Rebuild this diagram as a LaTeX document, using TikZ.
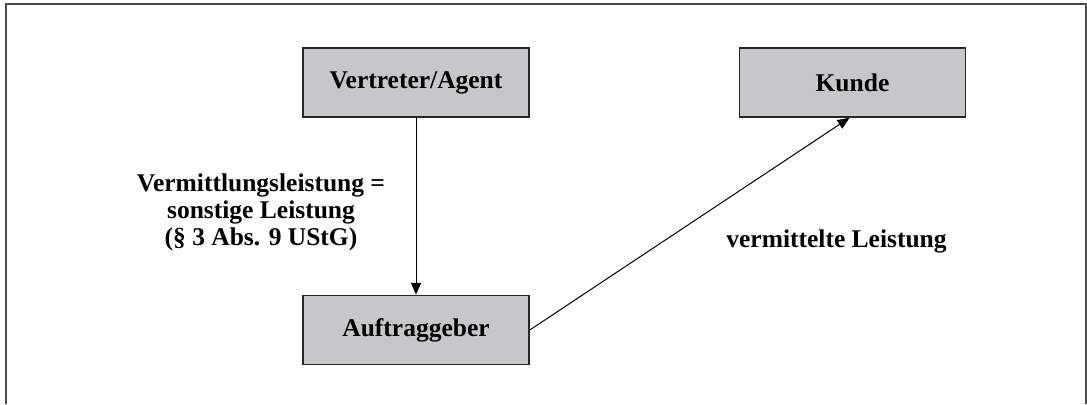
\documentclass[tikz,border=0pt]{standalone}
\usepackage{fontspec}
\setmainfont{Liberation Serif}
\usepackage{tikz}
\usetikzlibrary{positioning,arrows.meta}

\definecolor{boxgray}{HTML}{C6C7C9}

\begin{document}
\begin{tikzpicture}[x=0.5pt,y=-0.5pt,
    party/.style={rectangle,fill=boxgray,draw=black!85,line width=0.75pt,minimum width=113pt,minimum height=34.5pt,inner sep=0pt,font=\fontsize{12.75}{13.5}\selectfont\bfseries},
    lbl/.style={align=center,inner sep=0pt,font=\fontsize{12.75}{13.5}\selectfont\bfseries},
    flow/.style={draw,line width=0.5pt,-{Triangle[length=6pt,width=5pt]}}]
    \useasboundingbox (0,0) rectangle (1087,404);
    \draw[black!70,line width=0.8pt] (6,404) -- (6,4) -- (1086,4) -- (1086,404);

    \node[party] (vertreter) at (416,82.5) {Vertreter/Agent};
    \node[party] (kunde) [right = 104.5pt of vertreter] {Kunde};
    \node[party] (auftraggeber) [below = 88.5pt of vertreter] {Auftraggeber};

    \node[lbl] (vermittlung) at (261,212) {Vermittlungsleistung =\\sonstige Leistung\\(§ 3 Abs. 9 UStG)};
    \node[lbl] (vermittelt) at (836.5,241) {vermittelte Leistung};

    \path
    (vertreter) edge[flow] (auftraggeber)
    (auftraggeber.east) edge[flow] ([xshift=-1.5pt]kunde.south)
    ;
\end{tikzpicture}
\end{document}
